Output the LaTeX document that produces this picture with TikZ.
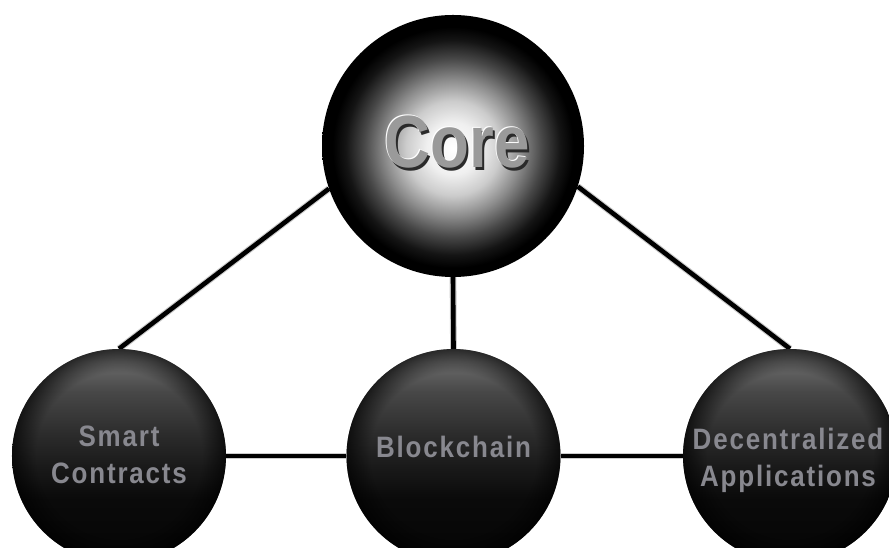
\documentclass[tikz,border=0pt]{standalone}
\usepackage{fontspec}
\usepackage{graphicx}
\usetikzlibrary{fadings,calc}

\newfontfamily\lblfont[LetterSpace=7]{Liberation Sans}
\newfontfamily\corefont{Liberation Sans}
\definecolor{lblgray}{HTML}{88888F}
\definecolor{coregray}{HTML}{9A9A9A}
\definecolor{coreshade}{HTML}{2A2A2A}

% bevelled lettering: dark drop shadow, light upper edge, grey face
\newcommand\bevelword[1]{\leavevmode
  \rlap{\kern2.5pt\raisebox{-3pt}{\textcolor{coreshade}{#1}}}%
  \rlap{\kern-1pt\raisebox{1.5pt}{\textcolor{white}{#1}}}%
  \textcolor{coregray}{#1}}

% bright glowing centre of the top sphere (sphere radius = 25bp)
\pgfdeclareradialshading{coreball}{\pgfpoint{0bp}{-0.5bp}}{%
  color(0bp)=(white); color(5bp)=(white!94!black); color(9bp)=(white!80!black);
  color(13bp)=(white!55!black); color(17bp)=(white!28!black);
  color(20.5bp)=(white!8!black); color(23bp)=(black); color(50bp)=(black)}

% dark spheres: lit from the top, black towards the bottom (25bp..75bp)
\pgfdeclareverticalshading{lowball}{100bp}{%
  color(0bp)=(black!98); color(25bp)=(black!98); color(40bp)=(black!96);
  color(47.5bp)=(black!90); color(55bp)=(black!83); color(65bp)=(black!72);
  color(72bp)=(black!58); color(75bp)=(black!55); color(100bp)=(black!55)}

% darker rim on the spheres
\pgfdeclareradialshading{rimshade}{\pgfpointorigin}{%
  color(0bp)=(black); color(19.5bp)=(black); color(25bp)=(white!65!black);
  color(50bp)=(white!65!black)}
\pgfdeclarefading{rim}{\pgfuseshading{rimshade}}

\tikzset{
  ball/.style={circle, inner sep=0pt, minimum size=214pt, shading=lowball,
    postaction={fill=black, path fading=rim}},
  topball/.style={circle, inner sep=0pt, minimum size=262pt, shading=coreball},
  conn/.style={line width=4.6pt, black,
    preaction={draw=black!40, line width=6.8pt, opacity=0.5}},
  lbl/.style={inner sep=0pt, text=lblgray,
    font=\lblfont\bfseries\fontsize{29.5}{37}\selectfont},
  coretxt/.style={inner sep=0pt, anchor=base,
    font=\corefont\bfseries\fontsize{74}{80}\selectfont}
}

\begin{document}
\begin{tikzpicture}[x=1pt,y=1pt]
\useasboundingbox (0,0) rectangle (889,548);

% positions of the four spheres
\coordinate (pcore) at (453,402);
\coordinate (psc) at (119,92);
\coordinate (pbc) at (453.5,92);
\coordinate (pda) at (790,92);

% invisible anchors so the connectors can be laid first
\node[circle, inner sep=0pt, minimum size=262pt] (core) at (pcore) {};
\node[circle, inner sep=0pt, minimum size=214pt] (sc) at (psc) {};
\node[circle, inner sep=0pt, minimum size=214pt] (bc) at (pbc) {};
\node[circle, inner sep=0pt, minimum size=214pt] (da) at (pda) {};

% connectors
\draw[conn] (core.199) -- (sc.north);
\draw[conn] (core.342) -- (da.north);
\draw[conn] (core.south) -- (bc.north);
\draw[conn] (sc.east) -- (bc.west);
\draw[conn] (bc.east) -- (da.west);

% spheres
\node[topball] (coreball) at (pcore) {};
\node[ball] (scball) at (psc) {};
\node[ball] (bcball) at (pbc) {};
\node[ball] (daball) at (pda) {};

% embossed title
\node[coretxt] (coretext) at (457,380) {\scalebox{0.86}[1]{\bevelword{Core}}};

% labels
\node[lbl, anchor=base] (sctext) at (119,101)
  {\scalebox{0.88}[1]{\begin{tabular}[t]{@{}c@{}}Smart\\Contracts\end{tabular}}};
\node[lbl, anchor=base] (bctext) at (453.5,90)
  {\scalebox{0.88}[1]{Blockchain}};
\node[lbl, anchor=base] (datext) at (788,98)
  {\scalebox{0.88}[1]{\begin{tabular}[t]{@{}c@{}}Decentralized\\Applications\end{tabular}}};
\end{tikzpicture}
\end{document}
